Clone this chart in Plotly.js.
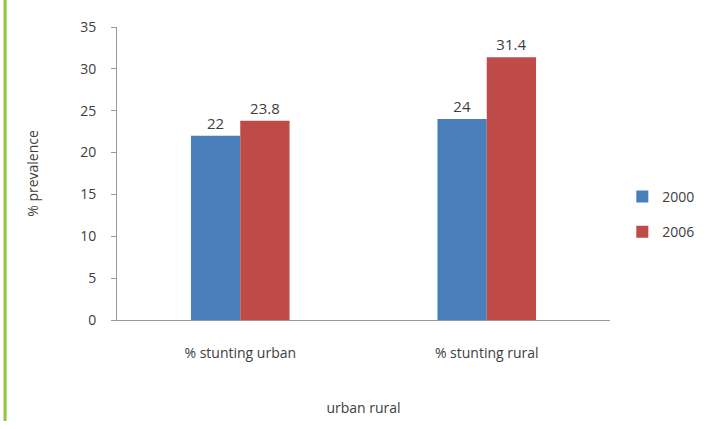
<!DOCTYPE html>
<html><head><meta charset="utf-8">
<script src="https://cdn.plot.ly/plotly-3.0.1.min.js"></script>
<style>body{margin:0;background:#fff}#c{width:717px;height:429px}</style>
</head><body><div id="c"></div>
<script>
const categories = ["% stunting urban", "% stunting rural"];
const series2000 = [22, 24];
const series2006 = [23.8, 31.4];
const seriesNames = ["2000", "2006"];
const yTicks = [0, 5, 10, 15, 20, 25, 30, 35];

const font = {family: "Open Sans, Liberation Sans, sans-serif", color: "#404040", size: 13};
const traces = [
  {type: "bar", name: seriesNames[0], legendgroup: "a", x: categories, y: series2000, marker: {color: "#4a7ebb"},
   text: series2000.map(String), textposition: "outside", cliponaxis: false,
   textfont: {size: 15, color: "#404040"}},
  {type: "bar", name: seriesNames[1], legendgroup: "b", x: categories, y: series2006, marker: {color: "#be4b48"},
   text: series2006.map(String), textposition: "outside", cliponaxis: false,
   textfont: {size: 15, color: "#404040"}}
];
const layout = {
  width: 717, height: 429,
  margin: {l: 117, r: 107, t: 27, b: 109},
  font: font,
  paper_bgcolor: "#fff", plot_bgcolor: "#fff",
  barmode: "group", bargap: 0.6, bargroupgap: 0,
  showlegend: true,
  legend: {x: 1.025, y: 0.36, xanchor: "left", yanchor: "middle", font: {size: 14, color: "#404040"},
           traceorder: "grouped", tracegroupgap: 14, itemwidth: 30},
  xaxis: {showline: true, linecolor: "#9a9a9a", linewidth: 1, ticks: "", tickfont: {size: 14},
          ticklabelstandoff: 20,
          title: {text: "urban rural", font: {size: 14}, standoff: 42}},
  yaxis: {range: [0, 35], tickvals: yTicks, showgrid: false, zeroline: false, showline: true,
          linecolor: "#9a9a9a", ticks: "outside", ticklen: 5, tickcolor: "#9a9a9a",
          ticklabelstandoff: 12,
          tickfont: {size: 14}, title: {text: "% prevalence", font: {size: 14}, standoff: 38}},
  shapes: [
    {type: "line", xref: "paper", yref: "paper", x0: -0.227, x1: -0.227, y0: 1.092, y1: -0.345,
     line: {color: "#8cc63f", width: 3}}
  ]
};
Plotly.newPlot("c", traces, layout, {displayModeBar: false, staticPlot: true});
</script></body></html>
